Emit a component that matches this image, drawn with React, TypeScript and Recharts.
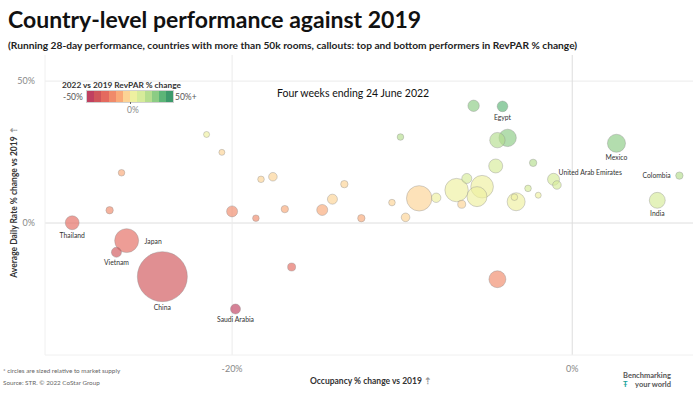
import { ScatterChart, Scatter, XAxis, YAxis, ZAxis, ReferenceLine } from 'recharts';

// one entry per country, '' = no callout
const countries = [
  'Thailand', 'Japan', 'Vietnam', 'China', 'Saudi Arabia', '', '', 'Egypt', '', 'Mexico',
  'Colombia', 'India', 'United Arab Emirates', '', '', '', '', '', '', '',
  '', '', '', '', '', '', '', '', '', '',
  '', '', '', '', '', '', '', '', '', '',
  '', '', '', '', '',
];
// occupancy % change vs 2019
const occChange = [
  -29.4, -26.2, -26.8, -24.1, -19.8, -16.5, -4.4, -4.1, -5.8, 2.6,
  6.3, 5.0, -1.1, -0.9, -4.4, -3.8, -10.1, -4.5, -2.3, -2.6,
  -2.0, -3.3, -3.4, -5.3, -5.6, -6.8, -6.2, -6.5, -8.0, -9.0,
  -10.6, -9.8, -12.4, -13.4, -14.1, -14.7, -16.9, -17.6, -18.3, -18.6,
  -20.0, -20.6, -21.5, -26.5, -27.2,
];
// ADR % change vs 2019
const adrChange = [
  0.1, -6.2, -10.3, -18.9, -30.3, -15.5, -19.8, 41.1, 41.3, 28.1,
  16.7, 8.0, 15.4, 13.4, 29.2, 30.0, 30.3, 20.1, 21.2, 12.2,
  9.8, 7.5, 9.1, 12.8, 9.3, 11.6, 15.7, 6.6, 8.9, 8.7,
  7.2, 2.0, 1.7, 13.7, 8.4, 4.6, 4.9, 16.3, 15.4, 1.7,
  4.1, 24.9, 31.2, 17.7, 4.5,
];
// market supply, thousand rooms
const supplyK = [
  290, 860, 150, 3750, 150, 96, 430, 170, 195, 490,
  82, 380, 216, 111, 356, 454, 65, 294, 82, 65,
  54, 486, 65, 766, 600, 821, 150, 96, 133, 968,
  65, 111, 82, 82, 150, 182, 82, 111, 65, 65,
  182, 54, 54, 65, 82,
];
const xTicks = [-20, 0];
const yTicks = [0, 50];
// RevPAR % change legend steps, -50% .. 50%+
const palette = [
  '#c04060', '#d0555a', '#e46a5f', '#f08a6a', '#f9a978', '#fcd394',
  '#eef0a0', '#d6eb9a', '#b5dd8e', '#8ccc84', '#5cb577', '#3d9a6b',
];

const FONT = 'Lato, "Open Sans", sans-serif';

const data = countries
  .map((name, i) => ({
    name,
    occ: occChange[i],
    adr: adrChange[i],
    supply: supplyK[i],
    revpar: ((1 + occChange[i] / 100) * (1 + adrChange[i] / 100) - 1) * 100,
  }))
  .sort((a, b) => b.supply - a.supply);

function colorFor(v: number) {
  const step = 100 / palette.length;
  const i = Math.floor((v + 50) / step);
  return palette[Math.max(0, Math.min(palette.length - 1, i))];
}

const labelSide: Record<string, string> = {
  Japan: 'right',
  Colombia: 'left',
  'United Arab Emirates': 'aboveRight',
};

function Bubble(props: any) {
  const { cx, cy, size, payload } = props;
  const r = Math.sqrt((size || 0) / Math.PI);
  const name = payload?.name;
  let label = null;
  if (name) {
    const side = labelSide[name] || 'below';
    let x = cx, y = cy + r + 8, anchor = 'middle';
    if (side === 'right') { x = cx + r + 6; y = cy + 3; anchor = 'start'; }
    if (side === 'left') { x = cx - r - 5; y = cy + 2; anchor = 'end'; }
    if (side === 'aboveRight') { x = cx + 5; y = cy - 4; anchor = 'start'; }
    label = (
      <text x={x} y={y} textAnchor={anchor} fontSize={6.8} fill="#333" fontFamily={FONT}>
        {name}
      </text>
    );
  }
  return (
    <g>
      <circle cx={cx} cy={cy} r={r} fill={colorFor(payload.revpar)} fillOpacity={0.66} stroke="#8c8c8c" strokeOpacity={0.55} strokeWidth={0.7} />
      {label}
    </g>
  );
}

export default function App() {
  return (
    <div style={{ position: 'absolute', left: 0, top: 0, width: 700, height: 394, background: '#fff', fontFamily: FONT, overflow: 'hidden' }}>
      <div style={{ position: 'absolute', left: 8, top: 5, fontSize: 23, fontWeight: 700, color: '#111', whiteSpace: 'nowrap', lineHeight: '28px' }}>
        Country-level performance against 2019
      </div>
      <div style={{ position: 'absolute', left: 8, top: 39, fontSize: 10.2, fontWeight: 700, color: '#222', whiteSpace: 'nowrap', lineHeight: '12px' }}>
        (Running 28-day performance, countries with more than 50k rooms, callouts: top and bottom performers in RevPAR % change)
      </div>

      <div style={{ position: 'absolute', left: 0, top: 0 }}>
        <ScatterChart width={700} height={394} margin={{ top: 55, right: 7, bottom: 0, left: 0 }}>
          <XAxis
            type="number"
            dataKey="occ"
            domain={[-31, 7.1]}
            ticks={xTicks}
            interval={0}
            height={39}
            tickLine={false}
            tickMargin={5}
            axisLine={{ stroke: '#f0f0f0' }}
            tickFormatter={(v: number) => `${v}%`}
            tick={{ fontSize: 9, fill: '#888', fontFamily: FONT }}
          />
          <YAxis
            type="number"
            dataKey="adr"
            domain={[-46.5, 59.2]}
            ticks={yTicks}
            interval={0}
            width={45}
            tickLine={false}
            tickMargin={4}
            axisLine={{ stroke: '#f0f0f0' }}
            tickFormatter={(v: number) => `${v}%`}
            tick={{ fontSize: 9, fill: '#888', fontFamily: FONT }}
          />
          <ZAxis type="number" dataKey="supply" domain={[54, 3750]} range={[28.3, 1963.5]} />
          {yTicks.map((t) => (
            <ReferenceLine key={`y${t}`} y={t} stroke={t === 0 ? '#dedede' : '#ebebeb'} />
          ))}
          {xTicks.map((t) => (
            <ReferenceLine key={`x${t}`} x={t} stroke={t === 0 ? '#dedede' : '#ebebeb'} />
          ))}
          <Scatter data={data} shape={Bubble} isAnimationActive={false} />
        </ScatterChart>
      </div>

      {/* legend */}
      <div style={{ position: 'absolute', left: 62, top: 80, fontSize: 8.3, fontWeight: 700, color: '#333', whiteSpace: 'nowrap', lineHeight: '10px' }}>
        2022 vs 2019 RevPAR % change
      </div>
      <div style={{ position: 'absolute', left: 63, top: 92, fontSize: 8.5, color: '#555', lineHeight: '10px' }}>-50%</div>
      <div style={{ position: 'absolute', left: 86, top: 90, display: 'flex', height: 11, border: '1px solid #d0d0d0' }}>
        {palette.map((c) => (
          <div key={c} style={{ width: 7.2, height: 11, background: c }} />
        ))}
      </div>
      <div style={{ position: 'absolute', left: 130, top: 102, width: 1, height: 2, background: '#666' }} />
      <div style={{ position: 'absolute', left: 175, top: 92, fontSize: 8.5, color: '#555', lineHeight: '10px' }}>50%+</div>
      <div style={{ position: 'absolute', left: 127, top: 105, fontSize: 8.5, color: '#888', lineHeight: '10px' }}>0%</div>

      <div style={{ position: 'absolute', left: 277, top: 87, fontSize: 10.5, color: '#111', whiteSpace: 'nowrap', lineHeight: '12px' }}>
        Four weeks ending 24 June 2022
      </div>

      {/* axis titles */}
      <div style={{ position: 'absolute', left: 310, top: 376, fontSize: 8.5, fontWeight: 700, color: '#333', whiteSpace: 'nowrap', lineHeight: '10px' }}>
        Occupancy % change vs 2019 <span style={{ color: '#999' }}>⇡</span>
      </div>
      <div style={{ position: 'absolute', left: 14, top: 202, transform: 'translate(-50%, -50%) rotate(-90deg)', fontSize: 8.5, fontWeight: 700, color: '#333', whiteSpace: 'nowrap', lineHeight: '10px' }}>
        Average Daily Rate % change vs 2019 <span style={{ color: '#999' }}>⇡</span>
      </div>

      {/* footnotes */}
      <div style={{ position: 'absolute', left: 3, top: 367, fontSize: 6.3, color: '#666', whiteSpace: 'nowrap', lineHeight: '8px' }}>
        * circles are sized relative to market supply
      </div>
      <div style={{ position: 'absolute', left: 3, top: 379, fontSize: 6.3, color: '#666', whiteSpace: 'nowrap', lineHeight: '8px' }}>
        Source: STR. © 2022 CoStar Group
      </div>

      {/* logo */}
      <div style={{ position: 'absolute', left: 623, top: 371, fontSize: 7.5, fontWeight: 700, color: '#555', lineHeight: '9px', whiteSpace: 'nowrap' }}>
        <div>Benchmarking</div>
        <div style={{ display: 'flex', justifyContent: 'space-between' }}>
          <span style={{ color: '#1aa39a' }}>Ŧ</span>
          <span>your world</span>
        </div>
      </div>
    </div>
  );
}
